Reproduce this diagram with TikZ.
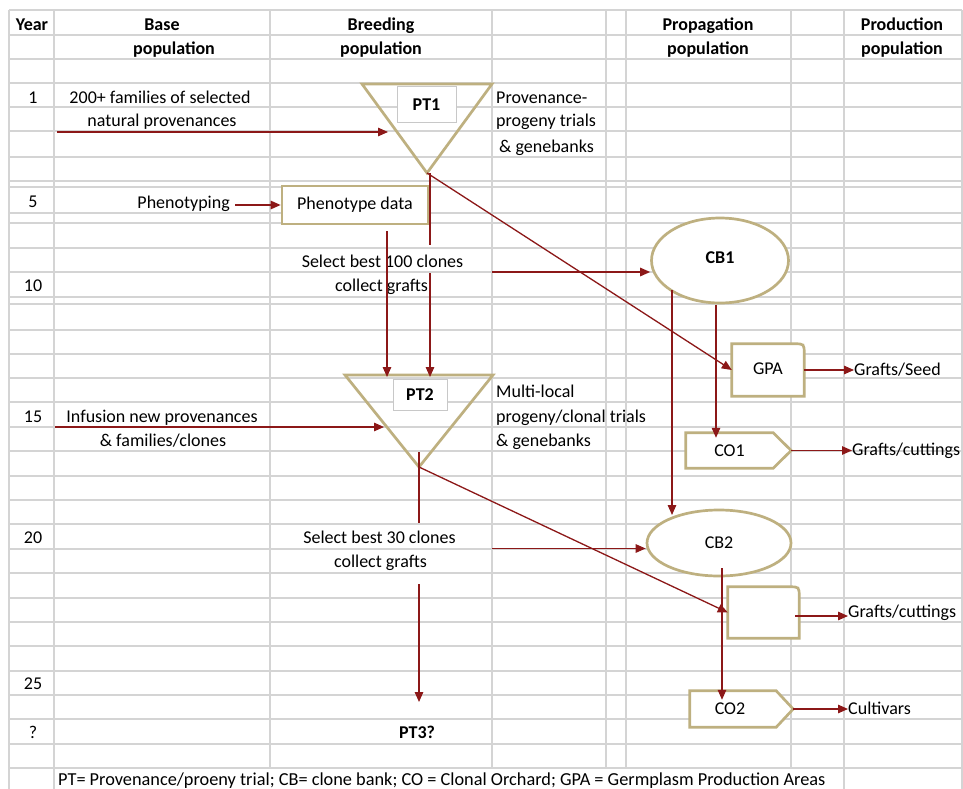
\documentclass[tikz,border=0pt]{standalone}
\usepackage{fontspec}
\setmainfont{Carlito}
\usetikzlibrary{arrows.meta,shapes.geometric}
\definecolor{gridc}{RGB}{212,212,212}
\definecolor{tanc}{RGB}{190,176,128}
\definecolor{arrc}{RGB}{140,24,24}
\definecolor{lblc}{RGB}{200,200,200}
\begin{document}
\begin{tikzpicture}[x=1pt,y=-1pt,
  txt/.style={font=\fontsize{18}{21}\selectfont, inner sep=0pt, anchor=base},
  btxt/.style={txt, font=\fontsize{18}{21}\selectfont\bfseries},
  gridline/.style={draw=gridc, line width=1.4pt},
  tanline/.style={draw=tanc, line width=2.7pt},
  arr/.style={draw=arrc, line width=1.3pt, -{Triangle[length=10pt,width=8.5pt]}},
  plainline/.style={draw=arrc, line width=1.3pt},
  lblbox/.style={draw=lblc, line width=1pt, fill=white, inner sep=0pt, font=\fontsize{18}{21}\selectfont\bfseries},
  shapebox/.style={inner sep=0pt, font=\fontsize{18}{21}\selectfont}
]
\useasboundingbox (0,0) rectangle (963,789);
\clip (0,0) rectangle (963,789);
\fill[white] (0,0) rectangle (963,789);

% ---------- grid ----------
\foreach \yy in {10,35,59,83,107,131,157,181,187,213,223,248,272,297,304,330,354,378,402,427,451,476,500,524,549,573,598,622,646,671,695,719,744,768}
  \draw[gridline] (9,\yy) -- (962,\yy);
\foreach \xx in {270,492,606,626,791}
  \draw[gridline] (\xx,10) -- (\xx,768);
\foreach \xx in {9,54,844,962}
  \draw[gridline] (\xx,10) -- (\xx,795);

% ---------- header ----------
\node[btxt] (hyear) at (32,30.5) {Year};
\node[btxt] (hbase) at (162,30.5) {Base};
\node[btxt] (hbasep) at (174,54.5) {population};
\node[btxt] (hbreed) at (381,30.5) {Breeding};
\node[btxt] (hbreedp) at (381,54.5) {population};
\node[btxt] (hprop) at (708,30.5) {Propagation};
\node[btxt] (hpropp) at (708,54.5) {population};
\node[btxt] (hprod) at (902,30.5) {Production};
\node[btxt] (hprodp) at (902,54.5) {population};

% ---------- years ----------
\node[txt] (y1) at (33,103) {1};
\node[txt] (y5) at (33,207.5) {5};
\node[txt] (y10) at (33,291) {10};
\node[txt] (y15) at (33,422) {15};
\node[txt] (y20) at (33,543) {20};
\node[txt] (y25) at (33,689) {25};
\node[txt] (yq) at (33,738) {?};

% ---------- triangles ----------
\coordinate (pt1tl) at (362,84);
\coordinate (pt1tr) at (492,84);
\coordinate (pt1ap) at (427,173);
\draw[tanline, line join=miter] (pt1tl) -- (pt1tr) -- (pt1ap) -- cycle;
\node[lblbox, minimum width=59pt, minimum height=36pt] (pt1) at (426.5,105) {PT1};

\coordinate (pt2tl) at (345,375);
\coordinate (pt2tr) at (493,375);
\coordinate (pt2ap) at (419,467);
\draw[tanline, line join=miter] (pt2tl) -- (pt2tr) -- (pt2ap) -- cycle;
\node[lblbox, minimum width=54pt, minimum height=31pt] (pt2) at (420,394.5) {PT2};

% ---------- boxes / shapes ----------
\node[shapebox, tanline, fill=white, minimum width=146pt, minimum height=38pt] (pheno) at (355,205) {Phenotype data};

\node[shapebox, tanline, fill=white, ellipse, minimum width=137pt, minimum height=85pt, text depth=6pt, font=\fontsize{18}{21}\selectfont\bfseries] (cb1) at (720,260.5) {CB1};
\node[shapebox, tanline, fill=white, ellipse, minimum width=144pt, minimum height=66pt] (cb2) at (719,543) {CB2};

\node[shapebox, minimum width=72pt, minimum height=52pt] (gpaback) at (768,370) {};
\draw[tanline, fill=white] (gpaback.south west) -- (gpaback.north west) -- ([xshift=-10pt]gpaback.north east)
  .. controls (gpaback.north east) .. ([yshift=-10pt]gpaback.north east) -- (gpaback.south east) -- cycle;
\node[shapebox, minimum width=72pt, minimum height=52pt, text depth=3.5pt] (gpa) at (768,370) {GPA};

\node[shapebox, minimum width=71pt, minimum height=51pt] (gcbox) at (763.5,612.5) {};
\draw[tanline, fill=white] (gcbox.south west) -- (gcbox.north west) -- ([xshift=-10pt]gcbox.north east)
  .. controls (gcbox.north east) .. ([yshift=-10pt]gcbox.north east) -- (gcbox.south east) -- cycle;

\node[shapebox, minimum width=87pt, minimum height=35pt] (co1) at (729.5,450.5) {};
\coordinate (co1tip) at ([xshift=18pt]co1.east);
\draw[tanline, fill=white, line join=miter] (co1.south west) -- (co1.north west) -- (co1.north east) -- (co1tip) -- (co1.south east) -- cycle;
\node[shapebox] (co1t) at (co1) {CO1};

\node[shapebox, minimum width=86pt, minimum height=36pt] (co2) at (733,709) {};
\coordinate (co2tip) at ([xshift=17pt]co2.east);
\draw[tanline, fill=white, line join=miter] (co2.south west) -- (co2.north west) -- (co2.north east) -- (co2tip) -- (co2.south east) -- cycle;
\node[shapebox] (co2t) at (730,709) {CO2};

% ---------- texts ----------
\node[txt] (fam1) at (160,103) {200+ families of selected};
\node[txt] (fam2) at (162,127) {natural provenances};
\node[txt, anchor=base west] (prov1) at (496,103) {Provenance-};
\node[txt, anchor=base west] (prov2) at (496,127) {progeny trials};
\node[txt, anchor=base west] (prov3) at (499,152) {\& genebanks};
\node[txt, anchor=base east] (phenotyping) at (230,208.5) {Phenotyping};
\node[txt] (sel1a) at (382.5,267) {Select best 100 clones};
\node[txt] (sel1b) at (381.5,291) {collect grafts};
\node[txt, anchor=base west] (ml1) at (496,397) {Multi-local};
\node[txt, anchor=base west] (ml2) at (496,422) {progeny/clonal trials};
\node[txt, anchor=base west] (ml3) at (496,446) {\& genebanks};
\node[txt] (inf1) at (162,422) {Infusion new provenances};
\node[txt] (inf2) at (163,446) {\& families/clones};
\node[txt] (sel2a) at (379.5,543) {Select best 30 clones};
\node[txt] (sel2b) at (380.5,567) {collect grafts};
\node[btxt] (pt3) at (417,738) {PT3?};
\node[txt, anchor=base west] (gseed) at (854,375) {Grafts/Seed};
\node[txt, anchor=base west] (gcut1) at (852,455.5) {Grafts/cuttings};
\node[txt, anchor=base west] (gcut2) at (848,617) {Grafts/cuttings};
\node[txt, anchor=base west] (cultiv) at (848,714) {Cultivars};
\node[txt, anchor=base west, font=\fontsize{18.3}{21}\selectfont] (foot) at (58,785) {PT= Provenance/proeny trial; CB= clone bank; CO = Clonal Orchard; GPA = Germplasm Production Areas};

% ---------- connectors ----------
\coordinate (a1s) at (57,132);
\coordinate (a1e) at (388,132);
\draw[arr] (a1s) -- (a1e);

\draw[arr, shorten <=5pt] (phenotyping.east |- pheno.west) -- (pheno.west);

\coordinate (c1) at (430,245);
\draw[plainline] (c1 |- pt1ap) -- (c1);
\coordinate (c2) at (430,273);
\draw[arr] (c2) -- ([yshift=-2pt]c2 |- pt2tl);

\coordinate (ph1) at (387,231);
\draw[arr] (ph1) -- ([yshift=-2pt]ph1 |- pt2tl);

\draw[arr] (pt1ap) -- (gpa.west);

\coordinate (s1a) at (492,272);
\draw[arr] (s1a) -- (s1a -| cb1.west);

\coordinate (c9) at (672,290);
\coordinate (c10) at (672,515);
\draw[arr] (c9) -- (c10);

\coordinate (c7) at (716,305);
\draw[arr] (c7) -- ([yshift=-5pt]c7 |- co1.north);

\draw[arr] (gpa.east) -- (gpa.east -| gseed.west);
\draw[arr] (co1tip) -- (co1tip -| gcut1.west);

\coordinate (a2s) at (55,427);
\coordinate (a2e) at (384,427);
\draw[arr] (a2s) -- (a2e);

\coordinate (c3) at (419,452);
\coordinate (c4) at (419,523);
\draw[plainline] (c3) -- (c4);
\coordinate (c5) at (419,584);
\coordinate (c6) at (419,702);
\draw[arr] (c5) -- (c6);

\draw[arr] (pt2ap) -- (gcbox.west);

\coordinate (s2a) at (492,548.5);
\draw[arr] (s2a) -- (s2a -| cb2.west);

\coordinate (c11) at (722,568);
\draw[arr] (c11) -- ([yshift=-9pt]c11 |- co2.north);

\coordinate (gc2s) at (795,616);
\draw[arr] (gc2s) -- (gc2s -| gcut2.west);
\draw[arr] (co2tip) -- (co2tip -| cultiv.west);
\end{tikzpicture}
\end{document}
